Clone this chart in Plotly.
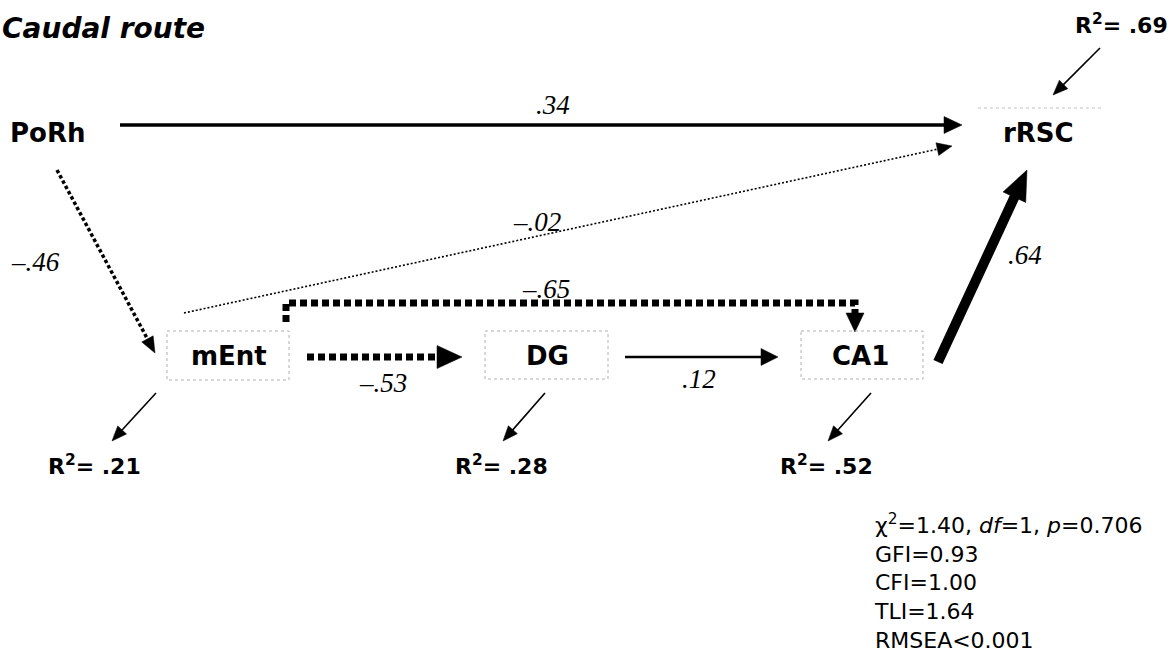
import math
import plotly.graph_objects as go

# ---------------- data ----------------
title_text = "Caudal route"
nodes = ["PoRh", "mEnt", "DG", "CA1", "rRSC"]
path_from = ["PoRh", "mEnt", "PoRh", "mEnt", "DG", "mEnt", "CA1"]
path_to = ["rRSC", "rRSC", "mEnt", "DG", "CA1", "CA1", "rRSC"]
path_coef = [0.34, -0.02, -0.46, -0.53, 0.12, -0.65, 0.64]
r2_nodes = ["rRSC", "mEnt", "DG", "CA1"]
r2_values = [0.69, 0.21, 0.28, 0.52]
fit_names = ["GFI", "CFI", "TLI"]
fit_values = [0.93, 1.00, 1.64]
chi2, chi_df, chi_p = 1.40, 1, 0.706
rmsea_text = "<0.001"

# ---------------- layout (pixel space) ----------------
W, H = 1175, 670
node_pos = {"PoRh": (47, 133), "mEnt": (229, 356), "DG": (547, 356),
            "CA1": (860, 356), "rRSC": (1038, 133)}
node_boxes = {"mEnt": (167, 331, 289, 380), "DG": (485, 331, 608, 379),
              "CA1": (801, 331, 923, 379)}
path_pts = [
    [(120, 125), (962, 125)],
    [(184, 313), (952, 146)],
    [(57, 170), (155, 353)],
    [(307, 357), (462, 357)],
    [(625, 357), (778, 357)],
    [(286, 322), (286, 303), (855, 303), (855, 332)],
    [(938, 362), (1027, 170)],
]
path_width = [3.5, 1.6, 3.5, 7, 2.4, 7, 10]
path_dash = ["solid", "2px,2px", "3.5px,2.5px", "7px,4px", "solid", "7px,4px", "solid"]
head_len = [18, 15, 16, 25, 17, 19, 30]
head_wid = [17, 13, 13, 23, 17, 18, 25]
label_pos = [(553, 105), (537, 222), (35, 262), (383, 383), (699, 379),
             (546, 289), (1025, 255)]
r2_arrow = [[(1100, 48), (1053, 95)], [(156, 393), (112, 441)],
            [(545, 393), (503, 441)], [(871, 393), (828, 441)]]
r2_label_pos = [(1121, 24), (94, 465), (501, 465), (826, 465)]
stats_x, stats_top = 872, 508

SANS = "DejaVu Sans, sans-serif"
SERIF = "Liberation Serif, Times New Roman, serif"

fig = go.Figure()
shapes = []
annotations = []


def fmt(v):
    s = f"{abs(v):.2f}".lstrip("0")
    return ("–" if v < 0 else "") + s


def arrow(pts, width, dash, hl, hw):
    (x0, y0), (x1, y1) = pts[-2], pts[-1]
    L = math.hypot(x1 - x0, y1 - y0)
    ux, uy = (x1 - x0) / L, (y1 - y0) / L
    nx, ny = -uy, ux
    back = hl * 0.7
    shaft = list(pts[:-1]) + [(x1 - ux * back, y1 - uy * back)]
    fig.add_trace(go.Scatter(
        x=[p[0] for p in shaft], y=[p[1] for p in shaft], mode="lines",
        line=dict(color="black", width=width, dash=dash),
        hoverinfo="skip", showlegend=False))
    bx, by = x1 - ux * hl, y1 - uy * hl
    tri = [(x1, y1), (bx + nx * hw / 2, by + ny * hw / 2),
           (bx - nx * hw / 2, by - ny * hw / 2), (x1, y1)]
    fig.add_trace(go.Scatter(
        x=[p[0] for p in tri], y=[p[1] for p in tri], mode="lines",
        fill="toself", fillcolor="black", line=dict(color="black", width=0.5),
        hoverinfo="skip", showlegend=False))


for n, (x0, y0, x1, y1) in node_boxes.items():
    shapes.append(dict(type="rect", xref="x", yref="y", x0=x0, y0=y0, x1=x1, y1=y1,
                       line=dict(color="#b0b0b0", width=1, dash="dot")))
shapes.append(dict(type="line", xref="x", yref="y", x0=978, y0=108, x1=1102, y1=108,
                   line=dict(color="#c0c0c0", width=1, dash="dot")))

for i in range(len(path_coef)):
    arrow(path_pts[i], path_width[i], path_dash[i], head_len[i], head_wid[i])
    annotations.append(dict(x=label_pos[i][0], y=label_pos[i][1], xref="x", yref="y",
                            text=f"<i>{fmt(path_coef[i])}</i>", showarrow=False,
                            font=dict(family=SERIF, size=27, color="black")))

for i in range(len(r2_values)):
    arrow(r2_arrow[i], 1.6, "solid", 15, 12)
    annotations.append(dict(x=r2_label_pos[i][0], y=r2_label_pos[i][1], xref="x", yref="y",
                            text=f"<b>R<sup>2</sup>= {fmt(r2_values[i])}</b>", showarrow=False,
                            font=dict(family=SANS, size=22, color="black")))

for n in nodes:
    x, y = node_pos[n]
    annotations.append(dict(x=x, y=y, xref="x", yref="y", text=f"<b>{n}</b>",
                            showarrow=False, font=dict(family=SANS, size=26, color="black")))

annotations.append(dict(x=0, y=28, xref="x", yref="y", xanchor="left",
                        text=f"<b><i>{title_text}</i></b>", showarrow=False,
                        font=dict(family=SANS, size=28, color="black")))

lines = [f"χ<sup>2</sup>={chi2:.2f}, <i>df</i>={chi_df}, <i>p</i>={chi_p:.3f}"]
lines += [f"{n}={v:.2f}" for n, v in zip(fit_names, fit_values)]
lines += [f"RMSEA{rmsea_text.replace('<', '&lt;')}"]
annotations.append(dict(x=stats_x, y=stats_top, xref="x", yref="y", xanchor="left",
                        yanchor="top", align="left", text="<br>".join(lines), showarrow=False,
                        font=dict(family=SANS, size=22, color="black")))

fig.update_layout(
    width=W, height=H, margin=dict(l=0, r=0, t=0, b=0),
    paper_bgcolor="white", plot_bgcolor="white",
    xaxis=dict(range=[0, W], visible=False, fixedrange=True),
    yaxis=dict(range=[H, 0], visible=False, fixedrange=True),
    shapes=shapes, annotations=annotations, showlegend=False,
)
fig.write_html("out.html", config={"displayModeBar": False},
               post_script="document.body.style.margin='0px';")
